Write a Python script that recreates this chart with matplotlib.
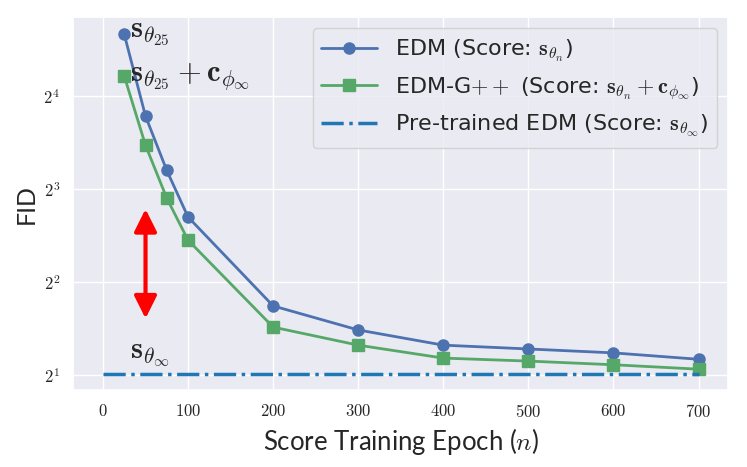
import numpy as np
import matplotlib.pyplot as plt
import matplotlib.ticker as mticker
import seaborn as sns

epochs = [25, 50, 75, 100, 200, 300, 400, 500, 600, 700]
fid_edm = [25.4, 13.8, 9.2, 6.5, 3.35, 2.80, 2.50, 2.43, 2.36, 2.25]
fid_edm_gpp = [18.6, 11.1, 7.48, 5.47, 2.86, 2.50, 2.27, 2.22, 2.16, 2.09]
fid_pretrained = 2.02
pretrained_span = [0, 700]
arrow_x = 50
arrow_span = [6.9, 3.05]

sns.set_theme(style='darkgrid')
plt.rcParams['font.family'] = ['Lato', 'DejaVu Sans']
plt.rcParams['mathtext.fontset'] = 'cm'

fig, ax = plt.subplots(figsize=(7.47, 4.67), dpi=100)

ax.plot(epochs, fid_edm, '-o', color='#4c72b0', lw=2, ms=8,
        label=r'EDM (Score: $\mathbf{s}_{\theta_n}$)')
ax.plot(epochs, fid_edm_gpp, '-s', color='#55a868', lw=2, ms=8,
        label=r'EDM-G$++$ (Score: $\mathbf{s}_{\theta_n} + \mathbf{c}_{\phi_\infty}$)')
ax.plot(pretrained_span, [fid_pretrained] * 2, '-.', color='#1f77b4', lw=2.5,
        label=r'Pre-trained EDM (Score: $\mathbf{s}_{\theta_\infty}$)')

ax.annotate('', xy=(arrow_x, arrow_span[0]), xytext=(arrow_x, arrow_span[1]),
            arrowprops=dict(arrowstyle='<|-|>', color='red', lw=3, mutation_scale=34,
                            shrinkA=0, shrinkB=0))

ax.text(epochs[0] + 7, fid_edm[0], r'$\mathbf{s}_{\theta_{25}}$', fontsize=22, va='center')
ax.text(epochs[0] + 7, fid_edm_gpp[0], r'$\mathbf{s}_{\theta_{25}} + \mathbf{c}_{\phi_\infty}$',
        fontsize=22, va='center')
ax.text(32, 2.33, r'$\mathbf{s}_{\theta_\infty}$', fontsize=22, va='center')

ax.set_yscale('log', base=2)
ax.set_ylim(2 ** 0.84, 2 ** 4.85)
ax.yaxis.set_major_locator(mticker.FixedLocator([2, 4, 8, 16]))
ax.yaxis.set_minor_locator(mticker.NullLocator())
ax.yaxis.set_major_formatter(mticker.FuncFormatter(lambda v, p: r'$2^{%d}$' % round(np.log2(v))))
ax.xaxis.set_major_locator(mticker.MultipleLocator(100))
ax.xaxis.set_major_formatter(mticker.FuncFormatter(lambda v, p: r'$%d$' % v))
ax.set_xlim(-35, 735)
ax.tick_params(labelsize=12)

ax.set_xlabel(r'Score Training Epoch ($n$)', fontsize=18.5)
ax.set_ylabel('FID', fontsize=18)
ax.legend(loc='upper right', prop={'family': 'DejaVu Sans', 'size': 16},
          handlelength=2.5, labelspacing=0.5)

fig.subplots_adjust(left=0.098, right=0.975, top=0.963, bottom=0.165)
fig.savefig('out.png')
